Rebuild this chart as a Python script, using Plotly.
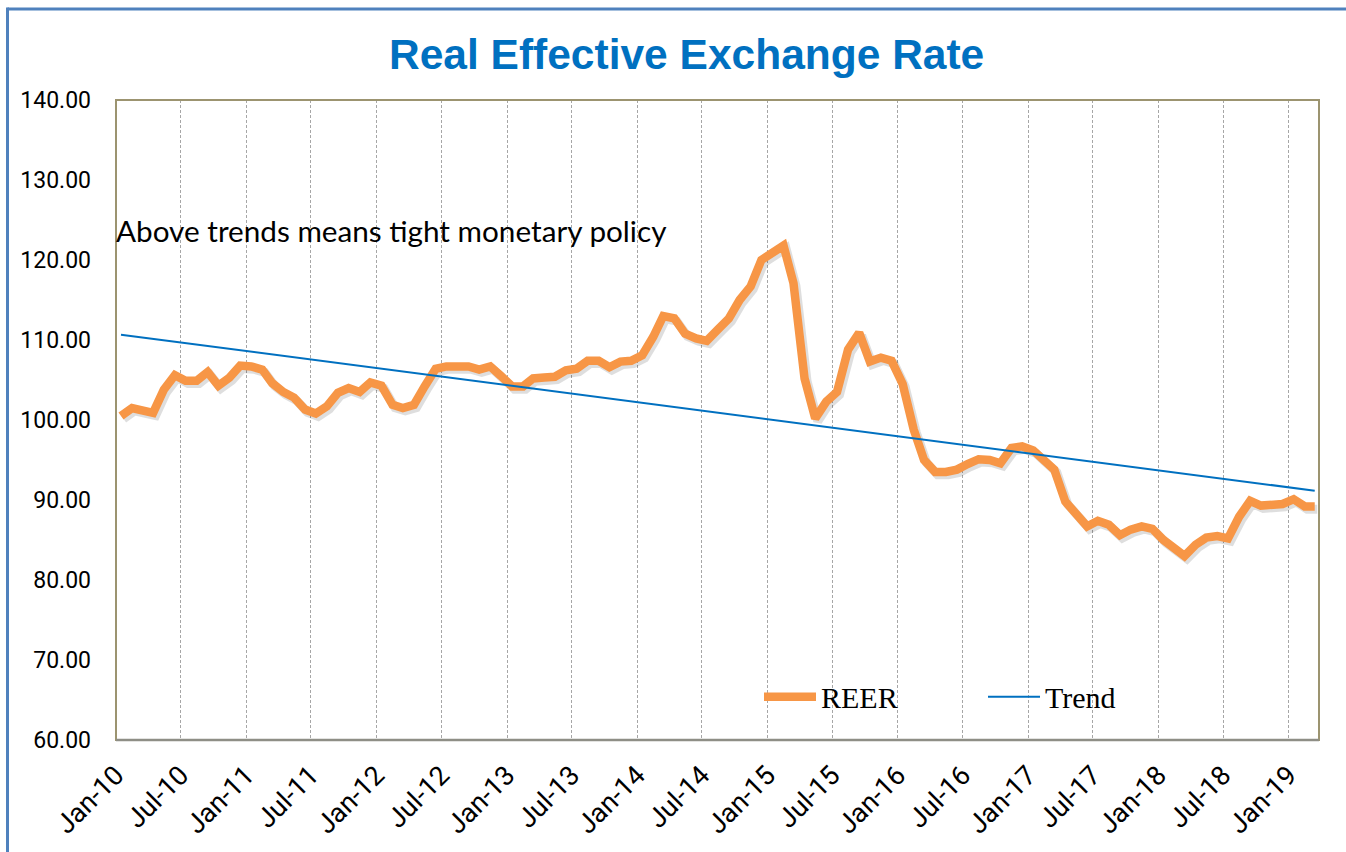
import pandas as pd
import plotly.graph_objects as go

# ---- data (monthly, Jan-2010 .. Mar-2019) ----
reer = [
    100.5, 101.5, 101.2, 100.9, 103.8, 105.6, 104.9, 104.9, 106.0, 104.3, 105.3, 106.8,  # 2010
    106.7, 106.3, 104.6, 103.5, 102.8, 101.3, 100.8, 101.7, 103.4, 104.0, 103.5, 104.7,  # 2011
    104.3, 101.9, 101.5, 101.9, 104.2, 106.4, 106.7, 106.8, 106.7, 106.3, 106.7, 105.5,  # 2012
    104.2, 104.2, 105.2, 105.3, 105.4, 106.2, 106.4, 107.4, 107.4, 106.6, 107.3, 107.4,  # 2013
    108.1, 110.4, 113.0, 112.7, 110.8, 110.2, 109.9, 111.3, 112.7, 115.0, 116.7, 120.0,  # 2014
    120.8, 121.8, 117.1, 105.2, 100.2, 102.3, 103.5, 108.8, 110.9, 107.3, 107.8, 107.4,  # 2015
    104.5, 98.8, 95.0, 93.5, 93.5, 93.8, 94.5, 95.1, 95.0, 94.6, 96.5, 96.7,            # 2016
    96.2, 95.1, 93.8, 89.8, 88.3, 86.7, 87.4, 86.9, 85.6, 86.3, 86.7, 86.4,             # 2017
    85.0, 83.8, 83.0, 84.4, 85.3, 85.5, 85.2, 87.9, 89.9, 89.3, 89.3, 89.5,             # 2018
    90.1, 89.2, 89.2,                                                                     # 2019
]
months = list(pd.date_range("2010-01-01", periods=len(reer), freq="MS") + pd.Timedelta(days=14))

trend_dates = [months[0], months[-1]]
trend_values = [110.66, 91.16]

y_ticks = [60, 70, 80, 90, 100, 110, 120, 130, 140]

title_text = "Real Effective Exchange Rate"
note_text = "Above trends means tight monetary policy"

ORANGE = "#F79646"
BLUE = "#0070C0"

# full-window figure (page body margin removed after plotting)
W, H = 1346, 852
ML, MR, MT, MB = 116, 27, 100, 112
PW = W - ML - MR          # plot width in px
PH = H - MT - MB          # plot height in px


def px_x(page_x):
    return (page_x - ML) / PW


def px_y(page_y):
    return 1 - (page_y - MT) / PH


fig = go.Figure()
# soft drop shadow of the REER line (same data, nudged down/right)
fig.add_trace(go.Scatter(
    x=[d + pd.Timedelta(days=7) for d in months], y=[v - 0.35 for v in reer],
    mode="lines", showlegend=False, hoverinfo="skip",
    line=dict(color="rgba(0,0,0,0.13)", width=9),
))
fig.add_trace(go.Scatter(
    x=months, y=reer, mode="lines", name="REER",
    line=dict(color=ORANGE, width=8.5),
))
fig.add_trace(go.Scatter(
    x=trend_dates, y=trend_values, mode="lines", name="Trend",
    line=dict(color=BLUE, width=2),
))

fig.update_layout(
    width=W, height=H,
    margin=dict(l=ML, r=MR, t=MT, b=MB, autoexpand=False),
    paper_bgcolor="white", plot_bgcolor="white",
    showlegend=True,
    legend=dict(
        orientation="h", x=px_x(759), xanchor="left", y=0.027, yanchor="bottom",
        bgcolor="rgba(0,0,0,0)", borderwidth=0,
        font=dict(family="Liberation Serif", size=30, color="black"),
        itemwidth=52, entrywidth=157, entrywidthmode="pixels",
    ),
    font=dict(family="Roboto", color="black"),
)

fig.update_xaxes(
    type="date",
    range=["2010-01-01", "2019-03-27"],
    tick0="2010-01-01", dtick="M6", tickformat="%b-%y",
    tickangle=-45, tickfont=dict(family="Roboto", size=27, color="black"),
    showgrid=True, gridcolor="#A6A6A6", gridwidth=1, griddash="3px,2px",
    showline=False, ticks="", zeroline=False,
    ticklabelstandoff=13, automargin=False,
)
fig.update_yaxes(
    range=[60, 140], tickvals=y_ticks, tickformat=".2f",
    tickfont=dict(family="Roboto", size=23, color="black"),
    showgrid=False, zeroline=False, showline=False, ticks="",
    ticklabelstandoff=24, automargin=False,
)

# white legend backdrop (hides gridlines behind the legend)
fig.add_shape(type="rect", xref="paper", yref="paper",
              x0=px_x(690), x1=px_x(1200), y0=px_y(719), y1=px_y(682),
              fillcolor="white", line=dict(width=0), layer="between")
# plot-area border
fig.add_shape(type="rect", xref="paper", yref="paper", x0=0, x1=1, y0=0, y1=1,
              line=dict(color="#9C9470", width=2), layer="above")
# bottom axis line
fig.add_shape(type="line", xref="paper", yref="paper", x0=0, x1=1, y0=0, y1=0,
              line=dict(color="#8E8E86", width=2.5), layer="above")
# chart-area outer border (blue): only top and left edges are inside the picture
fig.add_shape(type="line", xref="paper", yref="paper",
              x0=px_x(7.5), x1=px_x(1400), y0=px_y(9), y1=px_y(9),
              line=dict(color="#4F81BD", width=3))
fig.add_shape(type="line", xref="paper", yref="paper",
              x0=px_x(7.5), x1=px_x(7.5), y0=px_y(7.5), y1=px_y(900),
              line=dict(color="#4F81BD", width=3))

fig.add_annotation(
    text=title_text, xref="paper", yref="paper",
    x=px_x(686), y=px_y(54.5),
    xanchor="center", yanchor="middle", showarrow=False,
    font=dict(family="Liberation Sans", size=42.5, color=BLUE, weight="bold"),
)
fig.add_annotation(
    text=note_text, xref="paper", yref="paper",
    x=0, y=px_y(230.5), xanchor="left", yanchor="middle",
    showarrow=False, xshift=-2,
    font=dict(family="Lato", size=29.7, color="black"),
)

fig.write_html(
    "out.html",
    config=dict(displayModeBar=False),
    post_script="document.body.style.margin='0';document.body.style.overflow='hidden';",
)
